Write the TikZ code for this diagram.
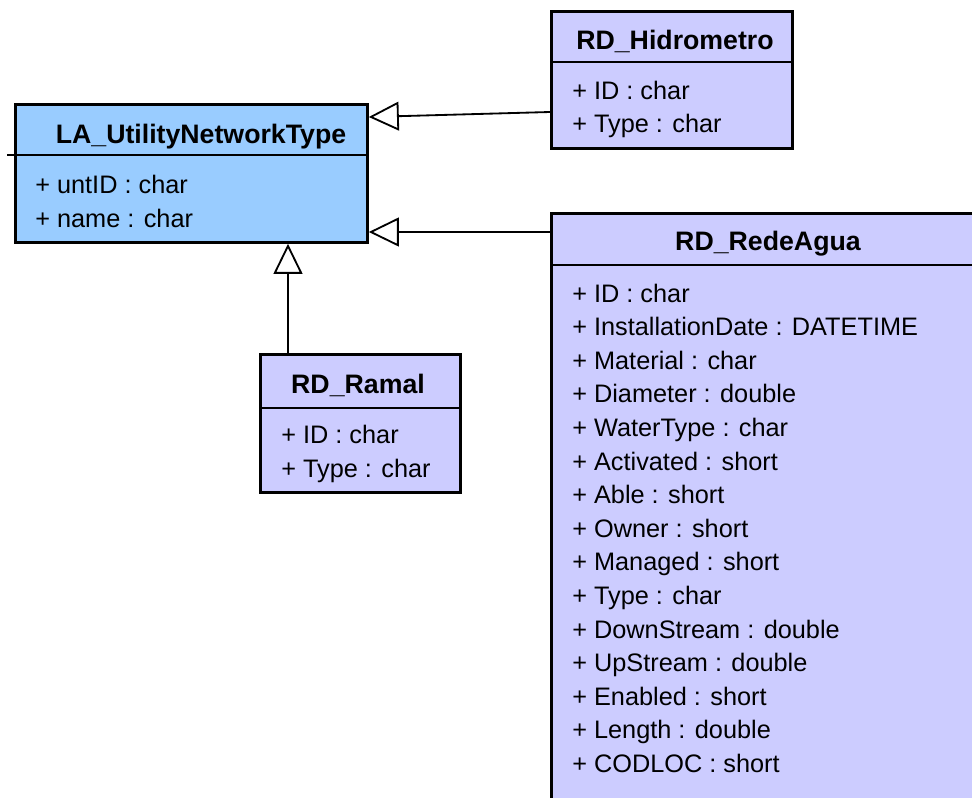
\documentclass[tikz,border=0pt]{standalone}
\usepackage{fontspec}
\setmainfont{Liberation Sans}
\usepackage{tikz}
\usetikzlibrary{arrows.meta,positioning}
\usepackage{xcolor}
\definecolor{umlblue}{RGB}{153,204,255}
\definecolor{umllilac}{RGB}{204,204,255}

\begin{document}
\begin{tikzpicture}[
  classbox/.style={draw=black,line width=2pt,anchor=north west,inner sep=0pt},
  classname/.style={font=\fontsize{19}{23}\selectfont\bfseries,anchor=base,inner sep=0pt},
  attr/.style={font=\fontsize{18}{22}\selectfont,anchor=base west,inner sep=0pt},
  divider/.style={line width=1.2pt},
  inherits/.style={line width=1.3pt,
    -{Triangle[open,length=0.75cm,width=0.72cm,fill=white]}}
]
  \useasboundingbox (0,0) rectangle (24.3,-19.95);
  \clip (0,0) rectangle (24.3,-19.95);

  % class boxes
  \node[classbox,fill=umlblue,minimum width=8.8cm,minimum height=3.45cm]
    (la) at (0.35,-2.575) {};
  \node[classbox,fill=umllilac,minimum width=6.025cm,minimum height=3.425cm]
    (hidro) at (13.75,-0.25) {};
  \node[classbox,fill=umllilac,minimum width=5cm,minimum height=3.45cm]
    (ramal) at (6.475,-8.825) {};
  \node[classbox,fill=umllilac,minimum width=11cm,minimum height=15.2cm]
    (rede) at (13.75,-5.3) {};

  \draw[divider] (0.175,-3.875) -- (la.east |- 0,-3.875);
  \draw[divider] (hidro.west |- 0,-1.55) -- (hidro.east |- 0,-1.55);
  \draw[divider] (ramal.west |- 0,-10.2) -- (ramal.east |- 0,-10.2);
  \draw[divider] (rede.west |- 0,-6.625) -- (rede.east |- 0,-6.625);

  % LA_UtilityNetworkType
  \node[classname] (la-name) at (5.025,-3.575) {LA\_UtilityNetworkType};
  \node[attr] (la-a1) at (0.875,-4.825) {+ untID : char};
  \node[attr] (la-a2) at (0.875,-5.675) {+ name : char};

  % RD_Hidrometro
  \node[classname] (hidro-name) at (16.875,-1.25) {RD\_Hidrometro};
  \node[attr] (hidro-a1) at (14.3,-2.5) {+ ID : char};
  \node[attr] (hidro-a2) at (14.3,-3.3) {+ Type : char};

  % RD_Ramal
  \node[classname] (ramal-name) at (8.95,-9.825) {RD\_Ramal};
  \node[attr] (ramal-a1) at (7.025,-11.075) {+ ID : char};
  \node[attr] (ramal-a2) at (7.025,-11.925) {+ Type : char};

  % RD_RedeAgua
  \node[classname] (rede-name) at (19.2,-6.25) {RD\_RedeAgua};
  \foreach \attrtext [count=\i from 0] in {%
      + ID : char, + InstallationDate : DATETIME, + Material : char,
      + Diameter : double, + WaterType : char, + Activated : short,
      + Able : short, + Owner : short, + Managed : short, + Type : char,
      + DownStream : double, + UpStream : double, + Enabled : short,
      + Length : double, + CODLOC : short}
    \node[attr] (rede-a\i) at (14.3,{-7.55-0.84*\i}) {\attrtext};

  % generalizations
  \draw[inherits] (hidro.west |- 0,-2.8) -- (la.east |- 0,-2.925);
  \draw[inherits] (rede.west |- 0,-5.8) -- (la.east |- 0,-5.8);
  \draw[inherits] (ramal.north -| 7.2,0) -- (la.south -| 7.2,0);
\end{tikzpicture}
\end{document}
